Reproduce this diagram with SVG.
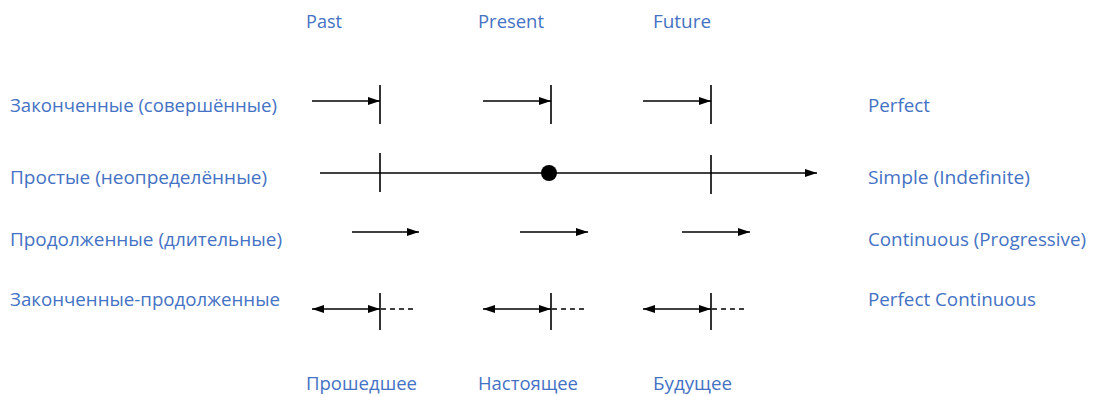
<svg xmlns="http://www.w3.org/2000/svg" width="1097" height="396" viewBox="0 0 1097 396">
<style>
text{font-family:"Open Sans","Noto Sans","Liberation Sans",sans-serif;font-size:18px;fill:#4472C4}
.l{stroke:#000;stroke-width:1.6;fill:none}
.a{stroke:#000;stroke-width:1.6;fill:none;marker-end:url(#ah)}
.d{stroke:#000;stroke-width:1.6;fill:none;marker-end:url(#ah);marker-start:url(#as)}
.ds{stroke:#000;stroke-width:1.4;fill:none;stroke-dasharray:5 4}
</style>
<defs>
<marker id="ah" markerUnits="userSpaceOnUse" markerWidth="13" markerHeight="10" refX="12" refY="4.5" orient="auto"><path d="M0,0.5 L12,4.5 L0,8.5 Z" fill="#000"/></marker>
<marker id="as" markerUnits="userSpaceOnUse" markerWidth="13" markerHeight="10" refX="0" refY="4.5" orient="auto"><path d="M12,0.5 L0,4.5 L12,8.5 Z" fill="#000"/></marker>
</defs>
<g id="labels-top">
<text x="306" y="28" textLength="36" lengthAdjust="spacingAndGlyphs">Past</text>
<text x="478" y="28" textLength="66" lengthAdjust="spacingAndGlyphs">Present</text>
<text x="653" y="28" textLength="58" lengthAdjust="spacingAndGlyphs">Future</text>
</g>
<g id="labels-bottom">
<text x="306" y="390" textLength="111" lengthAdjust="spacingAndGlyphs">Прошедшее</text>
<text x="478" y="390" textLength="100" lengthAdjust="spacingAndGlyphs">Настоящее</text>
<text x="653" y="390" textLength="79" lengthAdjust="spacingAndGlyphs">Будущее</text>
</g>
<g id="labels-left">
<text x="10" y="112" textLength="267" lengthAdjust="spacingAndGlyphs">Законченные (совершённые)</text>
<text x="10" y="184" textLength="257" lengthAdjust="spacingAndGlyphs">Простые (неопределённые)</text>
<text x="10" y="246" textLength="272" lengthAdjust="spacingAndGlyphs">Продолженные (длительные)</text>
<text x="10" y="306" textLength="270" lengthAdjust="spacingAndGlyphs">Законченные-продолженные</text>
</g>
<g id="labels-right">
<text x="868" y="112" textLength="62" lengthAdjust="spacingAndGlyphs">Perfect</text>
<text x="868" y="184" textLength="162" lengthAdjust="spacingAndGlyphs">Simple (Indefinite)</text>
<text x="868" y="246" textLength="218" lengthAdjust="spacingAndGlyphs">Continuous (Progressive)</text>
<text x="868" y="306" textLength="168" lengthAdjust="spacingAndGlyphs">Perfect Continuous</text>
</g>
<g id="connectors">
<line class="a" x1="312" y1="101" x2="380" y2="101"/>
<line class="l" x1="380" y1="85" x2="380" y2="124"/>
<line class="a" x1="483" y1="101" x2="551" y2="101"/>
<line class="l" x1="551" y1="85" x2="551" y2="124"/>
<line class="a" x1="643" y1="101" x2="711" y2="101"/>
<line class="l" x1="711" y1="85" x2="711" y2="124"/>

<line class="a" x1="320" y1="173" x2="817" y2="173"/>
<line class="l" x1="380" y1="153" x2="380" y2="192"/>
<line class="l" x1="711" y1="155" x2="711" y2="194"/>
<circle cx="549" cy="173" r="8" fill="#000"/>

<line class="a" x1="352" y1="232" x2="419" y2="232"/>
<line class="a" x1="520" y1="232" x2="588" y2="232"/>
<line class="a" x1="682" y1="232" x2="750" y2="232"/>

<line class="d" x1="312" y1="309" x2="380" y2="309"/>
<line class="l" x1="380" y1="293" x2="380" y2="330"/>
<line class="ds" x1="381" y1="309" x2="413" y2="309"/>
<line class="d" x1="483" y1="309" x2="551" y2="309"/>
<line class="l" x1="551" y1="293" x2="551" y2="330"/>
<line class="ds" x1="552" y1="309" x2="584" y2="309"/>
<line class="d" x1="643" y1="309" x2="711" y2="309"/>
<line class="l" x1="711" y1="293" x2="711" y2="330"/>
<line class="ds" x1="712" y1="309" x2="744" y2="309"/>
</g>
</svg>
